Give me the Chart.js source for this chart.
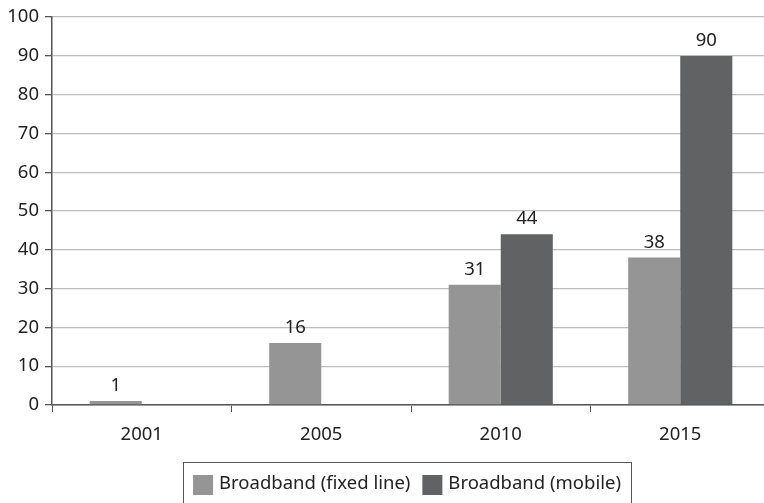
<!DOCTYPE html>
<html>
<head>
<meta charset="utf-8">
<script src="https://cdn.jsdelivr.net/npm/chart.js@4"></script>
<style>
  html, body { margin: 0; padding: 0; background: #fff; overflow: hidden; }
  #wrap { width: 772px; height: 503px; }
</style>
</head>
<body>
<div id="wrap"><canvas id="myChart" width="772" height="503"></canvas></div>
<script>
// Broadband subscriptions per year
const years = ['2001', '2005', '2010', '2015']
const fixedLine = [1, 16, 31, 38]
const mobile = [null, null, 44, 90]
const yTicks = { min: 0, max: 100, step: 10 }

const FIXED_COLOR = '#959595'
const MOBILE_COLOR = '#616264'
const FONT = '"Noto Sans", "Open Sans", sans-serif'
const FONT_SIZE = 18.5

// value labels above each bar
const barLabels = {
  id: 'barLabels',
  afterDatasetsDraw(chart) {
    const ctx = chart.ctx
    ctx.save()
    ctx.font = FONT_SIZE + 'px ' + FONT
    ctx.fillStyle = '#222'
    ctx.textAlign = 'center'
    ctx.textBaseline = 'alphabetic'
    chart.data.datasets.forEach((ds, i) => {
      chart.getDatasetMeta(i).data.forEach((bar, j) => {
        if (ds.data[j] === null) return
        ctx.fillText(ds.data[j], bar.x, bar.y - 10)
      })
    })
    ctx.restore()
  }
}

// boxed legend under the x axis labels
const boxLegend = {
  id: 'boxLegend',
  afterDraw(chart) {
    const ctx = chart.ctx
    const area = chart.chartArea
    ctx.save()
    ctx.font = FONT_SIZE + 'px ' + FONT
    const items = chart.data.datasets.map(ds => ({ text: ds.label, color: ds.backgroundColor }))
    const sw = 20, gap = 6, itemGap = 12, padX = 10
    let total = padX * 2
    items.forEach((it, i) => {
      it.w = sw + gap + ctx.measureText(it.text).width
      total += it.w + (i ? itemGap : 0)
    })
    const cx = (area.left + area.right) / 2 - 4
    const top = area.bottom + 57
    const h = 42
    let x = cx - total / 2
    ctx.strokeStyle = '#555'
    ctx.lineWidth = 1
    ctx.strokeRect(Math.round(x) + 0.5, top + 0.5, Math.round(total), h)
    x += padX
    ctx.textBaseline = 'middle'
    items.forEach(it => {
      ctx.fillStyle = it.color
      ctx.fillRect(x, top + 13, sw, sw)
      ctx.fillStyle = '#222'
      ctx.fillText(it.text, x + sw + gap, top + 22)
      x += it.w + itemGap
    })
    ctx.restore()
  }
}

const ctx = document.getElementById('myChart')
const myChart = new Chart(ctx, {
  type: 'bar',
  data: {
    labels: years,
    datasets: [{
      label: 'Broadband (fixed line)',
      data: fixedLine,
      backgroundColor: FIXED_COLOR
    },
    {
      label: 'Broadband (mobile)',
      data: mobile,
      backgroundColor: MOBILE_COLOR
    }]
  },
  options: {
    responsive: false,
    animation: false,
    layout: {
      padding: { top: 17, right: 2, bottom: 48, left: 0 }
    },
    datasets: {
      bar: {
        categoryPercentage: 0.58,
        barPercentage: 1,
        skipNull: false
      }
    },
    scales: {
      x: {
        afterFit: function(scale) { scale.height = 50 },
        grid: {
          offset: true,
          drawOnChartArea: false,
          color: '#555',
          tickLength: 7
        },
        border: { color: '#555', width: 1.5 },
        ticks: {
          color: '#222',
          font: { family: FONT, size: FONT_SIZE },
          padding: 12
        }
      },
      y: {
        min: yTicks.min,
        max: yTicks.max,
        afterFit: function(scale) { scale.width = 52 },
        grid: {
          color: '#bdbdbd',
          lineWidth: 1.3,
          tickColor: '#555',
          tickLength: 7
        },
        border: { color: '#555', width: 1.5 },
        ticks: {
          stepSize: yTicks.step,
          color: '#222',
          font: { family: FONT, size: FONT_SIZE },
          padding: 6
        }
      }
    },
    plugins: {
      legend: { display: false },
      tooltip: { enabled: false }
    }
  },
  plugins: [barLabels, boxLegend]
})
</script>
</body>
</html>
